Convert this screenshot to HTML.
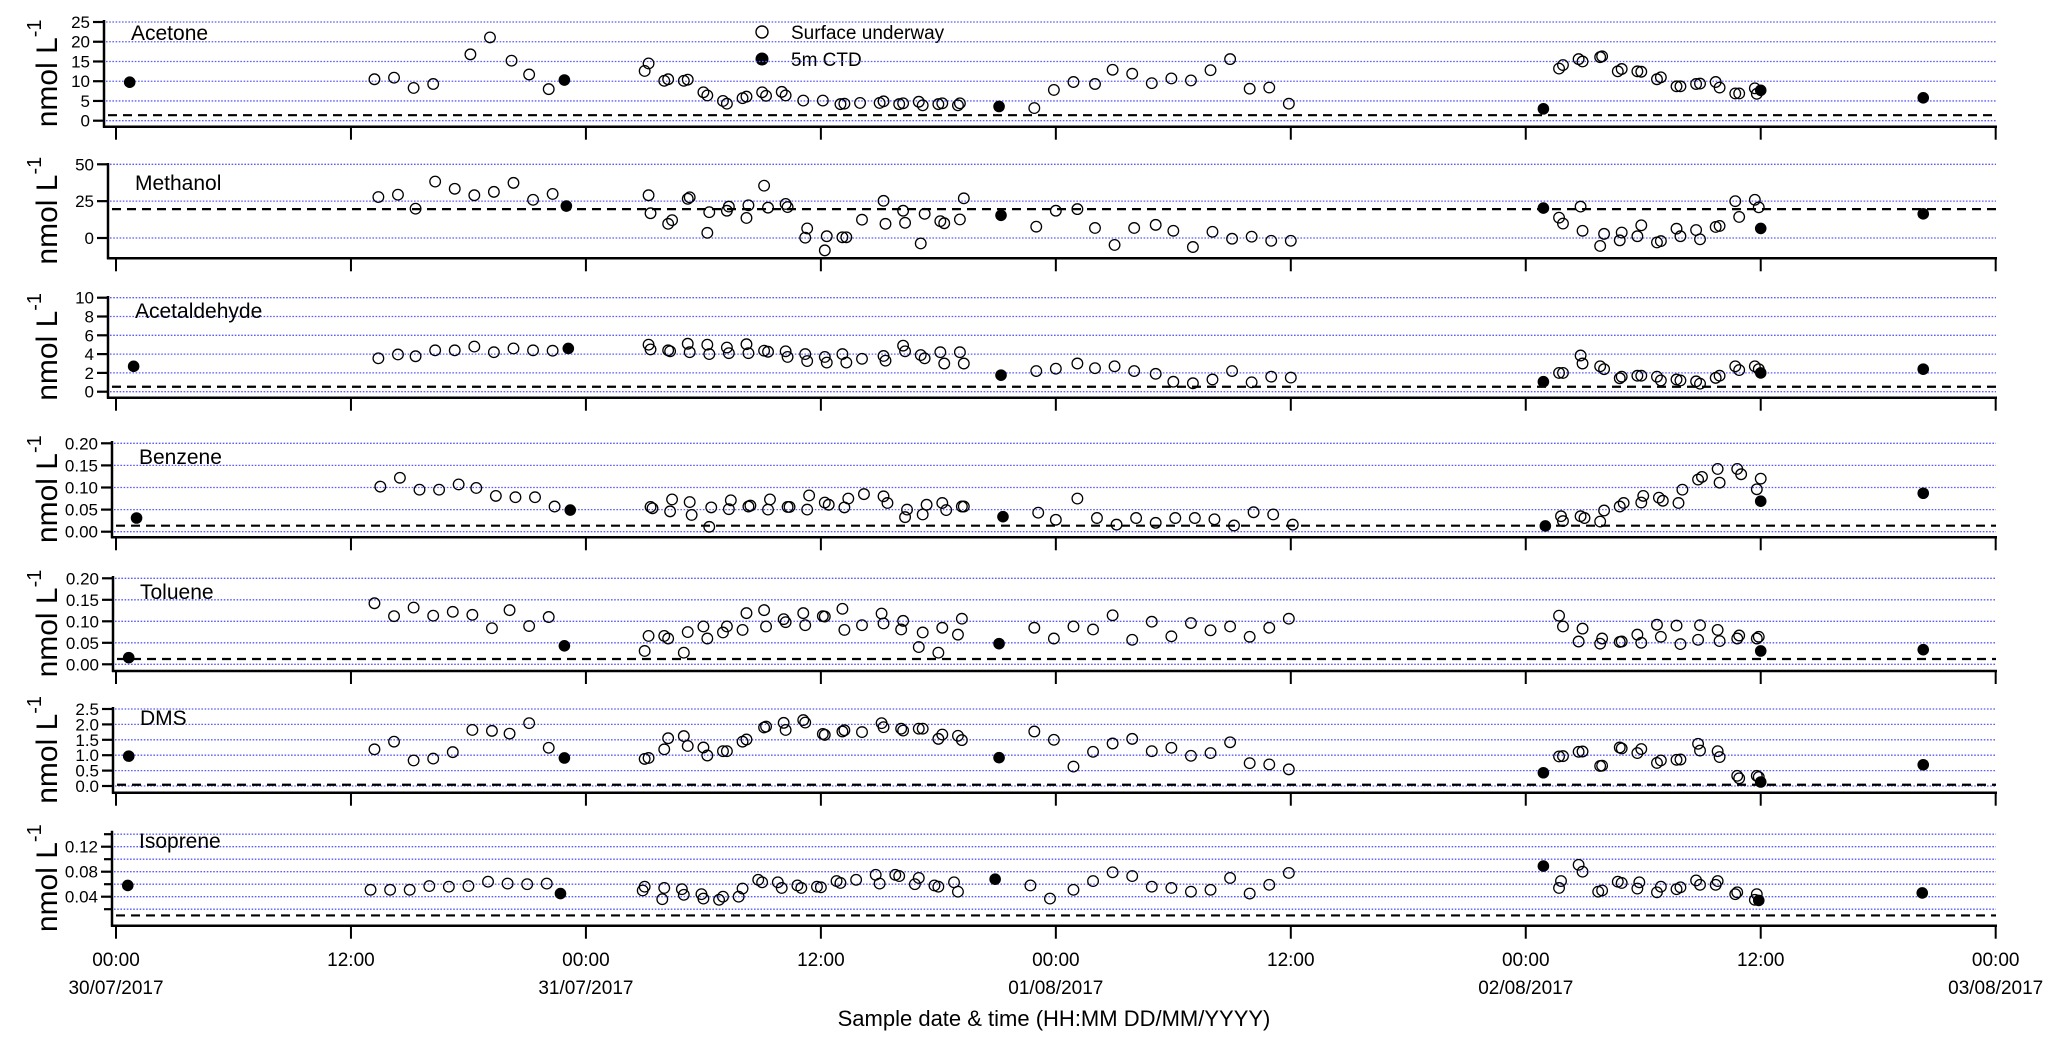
<!DOCTYPE html>
<html><head><meta charset="utf-8"><style>
html,body{margin:0;padding:0;background:#fff;}
svg{display:block;font-family:"Liberation Sans",sans-serif;}
</style></head><body>
<svg id="chart" width="2067" height="1052" viewBox="0 0 2067 1052" xmlns="http://www.w3.org/2000/svg">
<g id="legend">
<circle cx="762" cy="32" r="6" fill="#fff" stroke="#000" stroke-width="1.4"/>
<text x="791" y="39" font-size="19">Surface underway</text>
<circle cx="762" cy="59" r="6.5" fill="#000"/>
<text x="791" y="66" font-size="19">5m CTD</text>
</g>
<text x="1054" y="1026" font-size="22" text-anchor="middle">Sample date &amp; time (HH:MM DD/MM/YYYY)</text>
</svg>
<script>
// ---- data (hours since 00:00 30/07/2017) ----
const xTickLabels = ["00:00","12:00","00:00","12:00","00:00","12:00","00:00","12:00","00:00"];
const xDateLabels = ["30/07/2017","","31/07/2017","","01/08/2017","","02/08/2017","","03/08/2017"];

const acetoneUwH = [13.2,14.2,15.2,16.2,18.1,19.1,20.2,21.1,22.1,27.0,27.2,28.0,28.2,29.0,29.2,30.0,30.2,31.0,31.2,32.0,32.2,33.0,33.2,34.0,34.2,35.1,36.1,37.0,37.2,38.0,39.0,39.2,40.0,40.2,41.0,41.2,42.0,42.2,43.0,43.1,46.9,47.9,48.9,50.0,50.9,51.9,52.9,53.9,54.9,55.9,56.9,57.9,58.9,59.9,73.7,73.9,74.7,74.9,75.8,75.9,76.7,76.9,77.7,77.9,78.7,78.9,79.7,79.9,80.7,80.9,81.7,81.9,82.7,82.9,83.7,83.8];
const acetoneUwV = [10.5,10.9,8.3,9.3,16.8,21.1,15.2,11.7,8.0,12.6,14.5,10.1,10.5,10.1,10.4,7.2,6.4,5.0,4.3,5.7,6.1,7.2,6.3,7.3,6.4,5.1,5.1,4.2,4.3,4.5,4.5,4.9,4.2,4.4,4.8,3.9,4.2,4.4,3.9,4.4,3.2,7.8,9.8,9.3,12.9,11.9,9.5,10.7,10.2,12.8,15.6,8.1,8.4,4.3,13.2,14.1,15.6,15.0,16.1,16.3,12.5,13.1,12.5,12.4,10.5,11.0,8.7,8.7,9.3,9.4,9.8,8.4,6.9,6.9,8.2,6.8];
const acetoneCtdH = [0.7,22.9,45.1,72.9,84.0,92.3];
const acetoneCtdV = [9.75,10.3,3.6,3.0,7.7,5.8];

const methanolUwH = [13.4,14.4,15.3,16.3,17.3,18.3,19.3,20.3,21.3,22.3,27.2,27.3,28.2,28.4,29.2,29.3,30.2,30.3,31.2,31.3,32.2,32.3,33.1,33.3,34.2,34.3,35.2,35.3,36.2,36.3,37.1,37.3,38.1,39.2,39.3,40.2,40.3,41.1,41.3,42.1,42.3,43.1,43.3,47.0,48.0,49.1,50.0,51.0,52.0,53.1,54.0,55.0,56.0,57.0,58.0,59.0,60.0,73.7,73.9,74.8,74.9,75.8,76.0,76.8,76.9,77.7,77.9,78.7,78.9,79.7,79.9,80.7,80.9,81.7,81.9,82.7,82.9,83.7,83.9];
const methanolUwV = [27.8,29.4,19.9,38.3,33.4,29.0,31.3,37.4,25.9,29.9,29.0,16.8,9.6,12.1,26.6,27.6,3.5,17.5,18.5,21.3,13.6,22.2,35.5,20.6,23.1,21.0,0.2,6.5,-8.4,1.2,0.5,0.5,12.4,25.2,9.6,18.5,10.3,-3.7,16.4,11.4,10.0,12.6,26.9,7.7,18.5,19.6,6.8,-4.7,6.8,8.9,4.9,-6.1,4.2,-0.5,0.9,-1.9,-1.9,13.8,9.8,21.3,4.9,-5.4,2.8,-1.6,3.7,1.2,8.6,-3.0,-2.1,6.3,1.2,5.4,-0.9,7.5,8.2,25.0,14.3,25.9,20.8];
const methanolCtdH = [23.0,45.2,72.9,84.0,92.3];
const methanolCtdV = [21.7,15.4,20.3,6.5,16.4];

const acetaldehydeUwH = [13.4,14.4,15.3,16.3,17.3,18.3,19.3,20.3,21.3,22.3,27.2,27.3,28.2,28.3,29.2,29.3,30.2,30.3,31.2,31.3,32.2,32.3,33.1,33.3,34.2,34.3,35.2,35.3,36.2,36.3,37.1,37.3,38.1,39.2,39.3,40.2,40.3,41.1,41.3,42.1,42.3,43.1,43.3,47.0,48.0,49.1,50.0,51.0,52.0,53.1,54.0,55.0,56.0,57.0,58.0,59.0,60.0,73.7,73.9,74.8,74.9,75.8,76.0,76.8,76.9,77.7,77.9,78.7,78.9,79.7,79.9,80.7,80.9,81.7,81.9,82.7,82.9,83.7,83.9];
const acetaldehydeUwV = [3.55,3.96,3.77,4.4,4.4,4.8,4.2,4.6,4.4,4.36,5.0,4.5,4.4,4.3,5.1,4.2,5.0,4.0,4.7,4.1,5.05,4.1,4.36,4.25,4.3,3.7,4.0,3.26,3.7,3.1,4.0,3.1,3.5,3.8,3.3,4.9,4.3,3.9,3.55,4.2,3.0,4.2,3.0,2.2,2.45,3.0,2.5,2.7,2.2,1.9,1.06,0.9,1.3,2.2,1.0,1.6,1.5,2.0,2.0,3.85,3.0,2.7,2.4,1.43,1.6,1.7,1.7,1.6,1.2,1.3,1.2,1.1,0.85,1.47,1.7,2.7,2.3,2.7,2.4];
const acetaldehydeCtdH = [0.9,23.1,45.2,72.9,84.0,92.3];
const acetaldehydeCtdV = [2.7,4.6,1.76,1.06,2.0,2.4];

const benzeneUwH = [13.5,14.5,15.5,16.5,17.5,18.4,19.4,20.4,21.4,22.4,27.3,27.4,28.3,28.4,29.3,29.4,30.3,30.4,31.3,31.4,32.3,32.4,33.3,33.4,34.3,34.4,35.3,35.4,36.2,36.4,37.2,37.4,38.2,39.2,39.4,40.3,40.4,41.2,41.4,42.2,42.4,43.2,43.3,47.1,48.0,49.1,50.1,51.1,52.1,53.1,54.1,55.1,56.1,57.1,58.1,59.1,60.1,73.8,73.9,74.8,75.0,75.8,76.0,76.8,77.0,77.9,78.0,78.8,79.0,79.8,80.0,80.8,81.0,81.8,81.9,82.8,83.0,83.8,84.0];
const benzeneUwV = [0.102,0.122,0.095,0.095,0.107,0.099,0.081,0.078,0.078,0.057,0.056,0.053,0.046,0.073,0.067,0.038,0.011,0.055,0.051,0.071,0.057,0.059,0.050,0.073,0.056,0.056,0.050,0.082,0.066,0.061,0.055,0.075,0.085,0.080,0.065,0.033,0.050,0.039,0.061,0.065,0.049,0.057,0.057,0.043,0.027,0.075,0.031,0.016,0.031,0.020,0.031,0.031,0.028,0.014,0.044,0.039,0.016,0.035,0.024,0.035,0.031,0.023,0.048,0.057,0.065,0.066,0.081,0.077,0.070,0.065,0.095,0.118,0.124,0.142,0.111,0.142,0.130,0.096,0.120];
const benzeneCtdH = [1.05,23.2,45.3,73.0,84.0,92.3];
const benzeneCtdV = [0.031,0.049,0.034,0.013,0.069,0.087];

const tolueneUwH = [13.2,14.2,15.2,16.2,17.2,18.2,19.2,20.1,21.1,22.1,27.0,27.2,28.0,28.2,29.0,29.2,30.0,30.2,31.0,31.2,32.0,32.2,33.1,33.2,34.1,34.2,35.1,35.2,36.1,36.2,37.1,37.2,38.1,39.1,39.2,40.1,40.2,41.0,41.2,42.0,42.2,43.0,43.2,46.9,47.9,48.9,49.9,50.9,51.9,52.9,53.9,54.9,55.9,56.9,57.9,58.9,59.9,73.7,73.9,74.7,74.9,75.8,75.9,76.8,76.9,77.7,77.9,78.7,78.9,79.7,79.9,80.8,80.9,81.8,81.9,82.8,82.9,83.8,83.9];
const tolueneUwV = [0.142,0.112,0.132,0.113,0.122,0.115,0.084,0.126,0.089,0.110,0.031,0.066,0.066,0.060,0.027,0.075,0.088,0.060,0.074,0.088,0.080,0.119,0.126,0.088,0.105,0.098,0.119,0.091,0.112,0.111,0.129,0.080,0.091,0.118,0.095,0.081,0.101,0.040,0.074,0.027,0.085,0.069,0.106,0.085,0.060,0.088,0.081,0.114,0.057,0.099,0.065,0.096,0.079,0.088,0.064,0.085,0.106,0.113,0.088,0.053,0.083,0.048,0.060,0.052,0.053,0.069,0.050,0.092,0.064,0.090,0.047,0.057,0.091,0.080,0.054,0.060,0.067,0.060,0.064];
const tolueneCtdH = [0.65,22.9,45.1,84.0,92.3];
const tolueneCtdV = [0.0155,0.043,0.048,0.031,0.034];

const dmsUwH = [13.2,14.2,15.2,16.2,17.2,18.2,19.2,20.1,21.1,22.1,27.0,27.2,28.0,28.2,29.0,29.2,30.0,30.2,31.0,31.2,32.0,32.2,33.1,33.2,34.1,34.2,35.1,35.2,36.1,36.2,37.1,37.2,38.1,39.1,39.2,40.1,40.2,41.0,41.2,42.0,42.2,43.0,43.2,46.9,47.9,48.9,49.9,50.9,51.9,52.9,53.9,54.9,55.9,56.9,57.9,58.9,59.9,73.7,73.9,74.7,74.9,75.8,75.9,76.8,76.9,77.7,77.9,78.7,78.9,79.7,79.9,80.8,80.9,81.8,81.9,82.8,82.9,83.8,83.9];
const dmsUwV = [1.19,1.44,0.83,0.89,1.10,1.82,1.79,1.70,2.04,1.24,0.88,0.91,1.19,1.55,1.62,1.30,1.25,0.99,1.13,1.13,1.44,1.51,1.90,1.93,2.05,1.82,2.14,2.06,1.69,1.66,1.77,1.81,1.75,2.04,1.91,1.86,1.80,1.86,1.86,1.53,1.67,1.63,1.49,1.77,1.50,0.63,1.11,1.38,1.53,1.13,1.24,0.98,1.07,1.42,0.74,0.70,0.54,0.96,0.97,1.11,1.12,0.65,0.66,1.25,1.22,1.07,1.20,0.75,0.83,0.85,0.86,1.37,1.15,1.13,0.94,0.33,0.25,0.33,0.29];
const dmsCtdH = [0.65,22.9,45.1,72.9,84.0,92.3];
const dmsCtdV = [0.97,0.91,0.92,0.43,0.13,0.69];

const isopreneUwH = [13.0,14.0,15.0,16.0,17.0,18.0,19.0,20.0,21.0,22.0,26.9,27.0,27.9,28.0,28.9,29.0,29.9,30.0,30.8,31.0,31.8,32.0,32.8,33.0,33.8,34.0,34.8,35.0,35.8,36.0,36.8,37.0,37.8,38.8,39.0,39.8,40.0,40.8,41.0,41.8,42.0,42.8,43.0,46.7,47.7,48.9,49.9,50.9,51.9,52.9,53.9,54.9,55.9,56.9,57.9,58.9,59.9,73.7,73.8,74.7,74.9,75.7,75.9,76.7,76.9,77.7,77.8,78.7,78.9,79.7,79.9,80.7,80.9,81.7,81.8,82.7,82.8,83.7,83.8];
const isopreneUwV = [0.051,0.051,0.051,0.057,0.056,0.057,0.064,0.061,0.060,0.061,0.050,0.056,0.036,0.054,0.052,0.043,0.044,0.037,0.035,0.040,0.040,0.053,0.067,0.063,0.063,0.054,0.058,0.054,0.056,0.055,0.065,0.062,0.067,0.075,0.061,0.075,0.073,0.060,0.070,0.058,0.056,0.063,0.048,0.058,0.037,0.051,0.065,0.079,0.073,0.056,0.054,0.048,0.051,0.070,0.045,0.059,0.078,0.054,0.065,0.091,0.080,0.048,0.050,0.064,0.062,0.053,0.063,0.047,0.056,0.052,0.055,0.066,0.059,0.059,0.065,0.044,0.047,0.035,0.044];
const isopreneCtdH = [0.6,22.7,44.9,72.9,83.9,92.25];
const isopreneCtdV = [0.058,0.045,0.068,0.089,0.034,0.046];

const panelNames = ["Acetone","Methanol","Acetaldehyde","Benzene","Toluene","DMS","Isoprene"];
const detectionLimits = [1.4,19.6,0.53,0.0136,0.0123,0.04,0.01];
const yTickValues = [[0,5,10,15,20,25],[0,25,50],[0,2,4,6,8,10],[0,0.05,0.1,0.15,0.2],[0,0.05,0.1,0.15,0.2],[0,0.5,1,1.5,2,2.5],[0.04,0.08,0.12]];
const yTickDecimals = [0,0,0,2,2,1,2];

// ---- layout ----
const panels = [
 {key:"acetone", ax:104, vA:25, pA:22, vB:0, pB:120.7, top:20, bot:126.7, lab:40, uwH:acetoneUwH, uwV:acetoneUwV, cH:acetoneCtdH, cV:acetoneCtdV},
 {key:"methanol", ax:108, vA:50, pA:164.3, vB:0, pB:238, top:163, bot:258.3, lab:190, uwH:methanolUwH, uwV:methanolUwV, cH:methanolCtdH, cV:methanolCtdV},
 {key:"acetaldehyde", ax:108, vA:10, pA:297.7, vB:0, pB:391.7, top:296, bot:397.7, lab:318, uwH:acetaldehydeUwH, uwV:acetaldehydeUwV, cH:acetaldehydeCtdH, cV:acetaldehydeCtdV},
 {key:"benzene", ax:112, vA:0.2, pA:443.3, vB:0, pB:531.7, top:441, bot:537.3, lab:464, uwH:benzeneUwH, uwV:benzeneUwV, cH:benzeneCtdH, cV:benzeneCtdV},
 {key:"toluene", ax:113, vA:0.2, pA:578.3, vB:0, pB:664.3, top:576, bot:671, lab:599, uwH:tolueneUwH, uwV:tolueneUwV, cH:tolueneCtdH, cV:tolueneCtdV},
 {key:"dms", ax:113, vA:2.5, pA:709, vB:0, pB:786, top:707, bot:792.7, lab:725, uwH:dmsUwH, uwV:dmsUwV, cH:dmsCtdH, cV:dmsCtdV},
 {key:"isoprene", ax:112, vA:0.12, pA:846.7, vB:0.04, pB:896.7, top:830.7, bot:925.7, lab:848, uwH:isopreneUwH, uwV:isopreneUwV, cH:isopreneCtdH, cV:isopreneCtdV}
];
const X0 = 116, XH = 19.58, XR = 1996;
function xScale(h){ return X0 + XH*h; }
const NS = "http://www.w3.org/2000/svg";
const svg = document.getElementById("chart");
function mk(tag, attrs, parent){ const e=document.createElementNS(NS,tag); for(const k in attrs) e.setAttribute(k,attrs[k]); (parent||svg).appendChild(e); return e; }

panels.forEach((p, i) => {
  const yScale = v => p.pB + (v - p.vB) * (p.pA - p.pB) / (p.vA - p.vB);
  const g = mk("g", {});
  
  
  // gridlines
  let gridVals = yTickValues[i].slice();
  if (p.key === "isoprene") gridVals = [0.02,0.04,0.06,0.08,0.10,0.12,0.14];
  gridVals.forEach(v => {
    const l = mk("line", {x1:p.ax+2, x2:XR, y1:yScale(v), y2:yScale(v), stroke:"#5b5bff", "stroke-width":1.3, "stroke-dasharray":"1.6 1.6"}, g);
    
    
  });
  // detection limit
  const dl = mk("line", {x1:p.ax+4, x2:XR, y1:yScale(detectionLimits[i]), y2:yScale(detectionLimits[i]), stroke:"#000", "stroke-width":2.2, "stroke-dasharray":"9 6"}, g);
  
  
  // axes
  const ya = mk("line", {x1:p.ax, x2:p.ax, y1:p.top, y2:p.bot+1, stroke:"#000", "stroke-width":2.5}, g);
  
  
  const xa = mk("line", {x1:p.ax-1, x2:XR+1, y1:p.bot, y2:p.bot, stroke:"#000", "stroke-width":2.5}, g);
  
  
  for (let k=0;k<=8;k++){
    const t = mk("line", {x1:xScale(12*k), x2:xScale(12*k), y1:p.bot, y2:p.bot+13, stroke:"#000", "stroke-width":2}, g);
    
    
  }
  if (p.key === "isoprene") {
    [0.02,0.06,0.10,0.14].forEach(v => {
      const t = mk("line", {x1:p.ax-8, x2:p.ax, y1:yScale(v), y2:yScale(v), stroke:"#000", "stroke-width":2.2}, g);
      
      
    });
  }
  yTickValues[i].forEach(v => {
    const y = yScale(v);
    const t = mk("line", {x1:p.ax-11, x2:p.ax, y1:y, y2:y, stroke:"#000", "stroke-width":2.2}, g);
    
    
    const tx = mk("text", {x:p.ax-14, y:y+6, "font-size":17, "text-anchor":"end"}, g);
    tx.textContent = v.toFixed(yTickDecimals[i]);
    
    
  });
  // panel name
  const nm = mk("text", {x:p.ax+27, y:p.lab, "font-size":21}, g);
  nm.textContent = panelNames[i];
  
  
  // y-axis title
  const cy = (p.top + p.bot)/2;
  const yt = mk("text", {transform:"translate(57,"+cy+") rotate(-90)", "font-size":30, "text-anchor":"middle"}, g);
  
  
  const t1 = mk("tspan", {}, yt); t1.textContent = "nmol L";
  const t2 = mk("tspan", {"font-size":20, dy:-16}, yt); t2.textContent = "-1";
  // markers
  p.uwH.forEach((h, j) => {
    const c = mk("circle", {cx:xScale(h), cy:yScale(p.uwV[j]), r:5.3, fill:"none", stroke:"#000", "stroke-width":1.3}, g);
    
    
  });
  p.cH.forEach((h, j) => {
    const c = mk("circle", {cx:xScale(h), cy:yScale(p.cV[j]), r:5.8, fill:"#000"}, g);
    
    
  });
});
// x tick labels
xTickLabels.forEach((lab, k) => {
  const t = mk("text", {x:xScale(12*k), y:966, "font-size":19, "text-anchor":"middle"});
  t.textContent = lab;
  
  
  if (xDateLabels[k]) {
    const d = mk("text", {x:xScale(12*k), y:994, "font-size":19, "text-anchor":"middle"});
    d.textContent = xDateLabels[k];
    
    
  }
});
</script>
</body></html>
